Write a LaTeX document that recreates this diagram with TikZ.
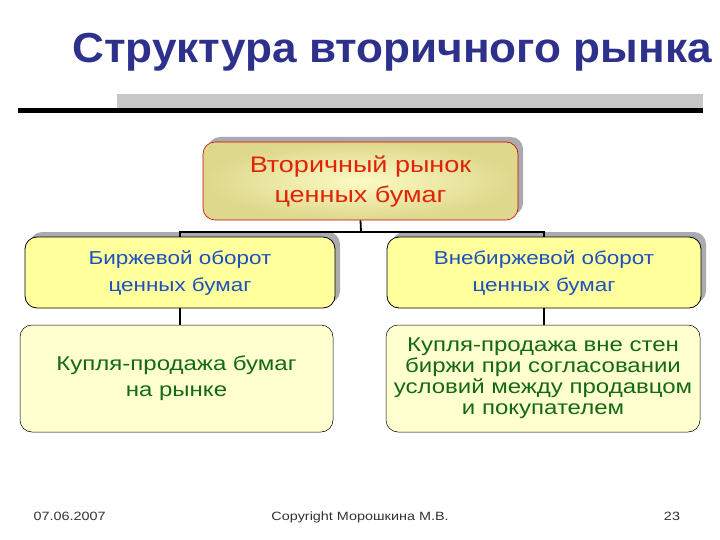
\documentclass[tikz,border=0pt]{standalone}
\usepackage{fontspec}
\setmainfont{Liberation Sans}[FakeStretch=1.2]
\newfontfamily\titlefont{Liberation Sans}[FakeStretch=1.05]
\usetikzlibrary{shadows}
\definecolor{titleblue}{RGB}{46,49,140}
\definecolor{midblue}{RGB}{30,80,190}
\definecolor{dgreen}{RGB}{20,105,20}
\definecolor{tred}{RGB}{225,35,10}
\definecolor{fillA}{RGB}{255,255,155}
\definecolor{fillB}{RGB}{255,255,208}
\definecolor{shad}{RGB}{170,170,175}
\definecolor{topin}{RGB}{252,250,195}
\definecolor{topout}{RGB}{222,216,140}
\begin{document}
\begin{tikzpicture}[x=1pt,y=-1pt,
  base/.style={rectangle, rounded corners=12pt, align=center, inner sep=2pt},
  topbox/.style={base, draw=red!80!black, line width=0.6pt, inner color=topin, outer color=topout,
    drop shadow={shadow xshift=5pt, shadow yshift=5pt, fill=shad, opacity=1},
    text=tred, font=\fontsize{22.5}{30}\selectfont},
  midbox/.style={base, draw=black, line width=0.8pt, fill=fillA,
    drop shadow={shadow xshift=5pt, shadow yshift=5pt, fill=shad, opacity=1},
    text=midblue, font=\fontsize{18.7}{27}\selectfont},
  lowbox/.style={base, draw=black, line width=0.5pt, fill=fillB,
    text=dgreen, font=\fontsize{20}{21}\selectfont},
  conn/.style={draw=black, line width=1.8pt},
  foot/.style={font=\fontsize{12}{14}\selectfont, text=black!80, anchor=base}
]
\useasboundingbox (0,0) rectangle (720,540);
\fill[white] (0,0) rectangle (720,540);

% title
\node[text=titleblue, font=\titlefont\bfseries\fontsize{42}{48}\selectfont, anchor=base] (title) at (392,63) {Структура вторичного рынка};
\fill[black!22] (117,94) rectangle (703,108);
\fill[black] (18,108) rectangle (703,113);

% boxes
\node[topbox, minimum width=315pt, minimum height=78pt] (top) at (360.5,181) {Вторичный рынок\\ценных бумаг};
\node[midbox, minimum width=310pt, minimum height=71pt] (l2) at (180,272.5) {Биржевой оборот\\ценных бумаг};
\node[midbox, minimum width=314pt, minimum height=71pt] (r2) at (544,272.5) {Внебиржевой оборот\\ценных бумаг};
\node[lowbox, minimum width=313pt, minimum height=107pt] (l3) at (176.5,378.5) {Купля-продажа бумаг\\[5pt]на рынке};
\node[lowbox, minimum width=314pt, minimum height=107pt] (r3) at (543,378.5) {Купля-продажа вне стен\\биржи при согласовании\\условий между продавцом\\и покупателем};

% connectors
\coordinate (j) at (361,232);
\draw[conn] (top.south) -- (j);
\draw[conn] (l2.north) |- (j) -| (r2.north);
\draw[conn] (l2.south) -- (l2.south |- l3.north);
\draw[conn] (r2.south) -- (r2.south |- r3.north);

% footer
\node[foot, anchor=base west] (date) at (30,520) {07.06.2007};
\node[foot] (copy) at (360,520) {Copyright Морошкина М.В.};
\node[foot] (num) at (672,520) {23};
\end{tikzpicture}
\end{document}
